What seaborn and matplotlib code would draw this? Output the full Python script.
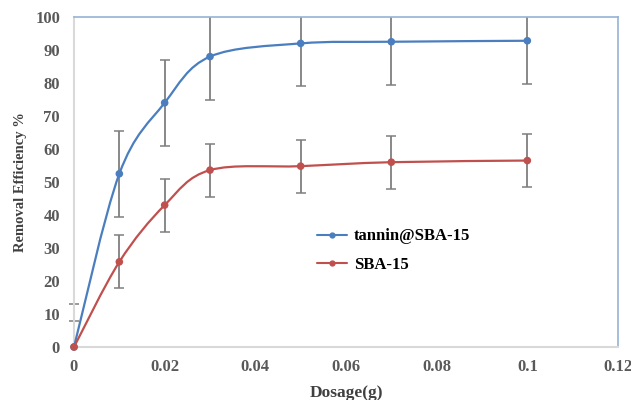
import numpy as np
import pandas as pd
import seaborn as sns
import matplotlib
matplotlib.use("Agg")
import matplotlib.pyplot as plt
from matplotlib.path import Path
from matplotlib.patches import PathPatch, Rectangle
from matplotlib.lines import Line2D

dosage = [0.0, 0.01, 0.02, 0.03, 0.05, 0.07, 0.1]
tannin = [0.0, 52.5, 74.0, 88.0, 92.0, 92.5, 92.8]
tannin_err = [13, 13, 13, 13, 13, 13, 13]
sba = [0.0, 25.8, 43.0, 53.6, 54.8, 56.0, 56.5]
sba_err = [8, 8, 8, 8, 8, 8, 8]
series_names = ["tannin@SBA-15", "SBA-15"]
xticks = [0, 0.02, 0.04, 0.06, 0.08, 0.1, 0.12]
xticklabels = ["0", "0.02", "0.04", "0.06", "0.08", "0.1", "0.12"]
yticks = [0, 10, 20, 30, 40, 50, 60, 70, 80, 90, 100]

BLUE = "#4a7ebf"
RED = "#c0504d"
GRAY = "#7f7f7f"
TXT = "#595959"

sns.set_theme(style="white")
plt.rcParams["font.family"] = ["Liberation Serif", "DejaVu Serif"]

fig = plt.figure(figsize=(6.31, 4.0), dpi=100)
ax = fig.add_axes([74 / 631, 1 - 347 / 400, (618 - 74) / 631, (347 - 17) / 400])

df = pd.DataFrame({
    "Dosage": dosage * 2,
    "Eff": tannin + sba,
    "Err": tannin_err + sba_err,
    "Series": [series_names[0]] * len(dosage) + [series_names[1]] * len(dosage),
})


def smooth_path(xs, ys):
    pts = np.column_stack([xs, ys]).astype(float)
    n = len(pts)
    verts = [pts[0]]
    codes = [Path.MOVETO]
    for i in range(n - 1):
        p0 = pts[i - 1] if i > 0 else pts[i]
        p1 = pts[i]
        p2 = pts[i + 1]
        p3 = pts[i + 2] if i + 2 < n else pts[i + 1]
        c1 = p1 + (p2 - p0) / 6.0
        c2 = p2 - (p3 - p1) / 6.0
        verts += [c1, c2, p2]
        codes += [Path.CURVE4] * 3
    return Path(verts, codes)


clip_rect = Rectangle((-0.05, 0.0), 1.1, 1.0, transform=ax.transAxes,
                      facecolor="none", edgecolor="none")
ax.add_patch(clip_rect)

colors = {series_names[0]: BLUE, series_names[1]: RED}
for name, sub in df.groupby("Series", sort=False):
    eb = ax.errorbar(sub["Dosage"], sub["Eff"], yerr=sub["Err"], fmt="none",
                     ecolor=GRAY, elinewidth=1.3, capsize=3.5, capthick=1.1, zorder=2)
    for art in list(eb.lines[1]) + list(eb.lines[2]):
        art.set_clip_path(clip_rect)
for name, sub in df.groupby("Series", sort=False):
    patch = PathPatch(smooth_path(sub["Dosage"].values, sub["Eff"].values),
                      facecolor="none", edgecolor=colors[name], lw=1.6, zorder=3)
    ax.add_patch(patch)

sns.scatterplot(data=df, x="Dosage", y="Eff", hue="Series", palette=colors,
                s=30, edgecolor="none", ax=ax, legend=False, zorder=4, clip_on=False)

ax.set_xlim(0, 0.12)
ax.set_ylim(0, 100)
ax.set_xticks(xticks)
ax.set_xticklabels(xticklabels)
ax.set_yticks(yticks)
for lab in ax.get_xticklabels() + ax.get_yticklabels():
    lab.set_fontweight("bold")
    lab.set_color(TXT)
    lab.set_fontsize(12)
ax.tick_params(axis="x", length=3, color="#d9d9d9", direction="inout", pad=7)
ax.tick_params(axis="y", length=0, pad=10)

for side in ["left", "bottom"]:
    ax.spines[side].set_color("#d9d9d9")
    ax.spines[side].set_linewidth(1.5)
for side in ["top", "right"]:
    ax.spines[side].set_color("#95b3d7")
    ax.spines[side].set_linewidth(1.2)

ax.set_xlabel("Dosage(g)", fontweight="bold", fontsize=12.5, color="#404040", labelpad=7)
ax.set_ylabel("Removal Efficiency %", fontweight="bold", fontsize=10.5, color="#404040", labelpad=6)

handles = [Line2D([], [], color=colors[n], marker="o", markersize=3.5, lw=1.5) for n in series_names]
leg = ax.legend(handles, series_names, loc="upper left", bbox_to_anchor=(0.42, 0.405),
                frameon=False, prop={"family": "Liberation Serif", "weight": "bold", "size": 12},
                handlelength=1.8, labelspacing=0.75, handletextpad=0.4)
for t in leg.get_texts():
    t.set_color("black")

fig.savefig("out.png", dpi=100)
